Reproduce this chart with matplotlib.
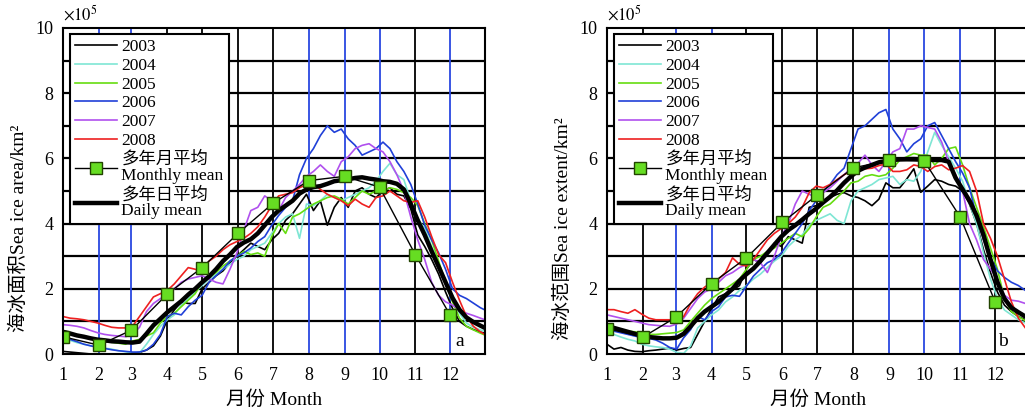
"""Sea ice area (a) and extent (b), 2003-2008, daily series with multi-year means."""

import matplotlib

matplotlib.use("Agg")
import matplotlib.pyplot as plt  # noqa: E402
from matplotlib.lines import Line2D  # noqa: E402

plt.rcParams["font.family"] = ["Liberation Serif", "Noto Sans CJK SC"]
plt.rcParams["mathtext.fontset"] = "stix"

YEARS = ["2003", "2004", "2005", "2006", "2007", "2008"]
YEAR_COLORS = ["#000000", "#7fe6d4", "#66dd11", "#2040d8", "#b050ee", "#ee2020"]
MONTH_DAYS = [1, 32, 60, 91, 121, 152, 182, 213, 244, 274, 305, 335]
MONTH_LABELS = [str(m) for m in range(1, 13)]
# sample days (every 6th day of the year, plus 31 Dec)
DAYS = list(range(1, 362, 6)) + [365]

# ---- panel a: sea ice area (x10^5 km2), values per month group ----
area_2003 = [[0.08, 0.06, 0.04, 0.02, 0.0, 0.0], [0.0, 0.0, 0.0, 0.0], [0.02, 0.05, 0.12, 0.25, 0.55],
             [1.05, 1.35, 1.6, 1.55, 1.55], [2.0, 2.2, 2.4, 2.55, 2.8, 3.0], [3.2, 3.4, 3.3, 3.2, 3.5],
             [3.7, 4.1, 4.3, 4.6, 4.9], [4.4, 4.7, 3.95, 4.5, 4.8], [4.5, 5.0, 5.1, 4.9, 4.8],
             [5.0, 5.1, 4.9, 4.85, 4.45], [3.65, 3.3, 2.9, 2.45, 1.9], [1.4, 1.0, 0.85, 0.75, 0.67, 0.64]]
area_2004 = [[0.5, 0.42, 0.35, 0.3, 0.25, 0.22], [0.18, 0.15, 0.1, 0.07], [0.02, 0.03, 0.3, 0.6, 0.85],
             [1.05, 1.2, 1.5, 1.7, 1.9], [2.1, 2.3, 2.45, 2.6, 2.75, 2.9], [3.0, 3.2, 3.3, 3.4, 3.7],
             [4.0, 4.2, 4.3, 3.55, 4.6], [4.55, 4.7, 4.9, 4.8, 4.7], [4.8, 4.9, 5.0, 5.1, 5.3],
             [5.6, 5.85, 5.5, 5.35, 4.7], [4.15, 3.85, 3.3, 2.8, 2.2], [1.75, 1.25, 0.95, 0.82, 0.74, 0.7]]
area_2005 = [[0.72, 0.65, 0.58, 0.52, 0.46, 0.4], [0.38, 0.36, 0.33, 0.3], [0.4, 0.45, 0.55, 0.65, 0.95],
             [1.15, 1.25, 1.45, 1.65, 1.85], [2.2, 2.35, 2.5, 2.7, 2.85, 3.0], [3.15, 3.05, 3.1, 3.0, 3.6],
             [4.0, 3.7, 4.2, 4.3, 4.45], [4.6, 4.7, 4.8, 4.85, 4.75], [4.6, 4.8, 5.0, 4.9, 5.0],
             [5.0, 5.1, 5.05, 4.95, 4.8], [4.55, 4.0, 3.5, 2.85, 2.2], [1.6, 1.1, 0.85, 0.74, 0.64, 0.58]]
area_2006 = [[0.55, 0.45, 0.38, 0.3, 0.25, 0.2], [0.17, 0.13, 0.1, 0.08], [0.06, 0.06, 0.12, 0.3, 0.6],
             [1.15, 1.25, 1.2, 1.45, 1.65], [1.8, 2.2, 2.4, 2.6, 2.85, 3.0], [3.1, 3.25, 3.45, 3.6, 3.95],
             [4.25, 4.5, 4.7, 5.5, 6.0], [6.3, 6.7, 7.0, 6.8, 6.9], [6.6, 6.4, 6.1, 6.2, 6.3],
             [6.5, 6.3, 5.9, 5.6, 5.2], [4.6, 3.95, 3.5, 3.1, 2.6], [2.0, 1.8, 1.7, 1.56, 1.42, 1.35]]
area_2007 = [[0.9, 0.88, 0.85, 0.8, 0.72, 0.65], [0.6, 0.57, 0.55, 0.53], [0.6, 0.82, 1.3, 1.55, 1.7],
             [1.8, 2.0, 2.2, 2.3, 2.35], [2.4, 2.3, 2.2, 2.15, 2.6, 3.1], [3.8, 4.4, 4.5, 4.85, 4.7],
             [4.4, 4.8, 5.0, 5.2, 5.45], [5.6, 5.8, 5.6, 5.45, 5.9], [6.05, 6.3, 6.4, 6.45, 6.3],
             [6.2, 5.9, 5.5, 5.0, 4.2], [3.5, 2.9, 2.2, 1.8, 1.6], [1.5, 1.35, 1.25, 1.18, 1.1, 1.05]]
area_2008 = [[1.15, 1.1, 1.08, 1.05, 1.0, 0.95], [0.88, 0.82, 0.8, 0.8], [0.85, 1.15, 1.45, 1.75, 1.85],
             [1.95, 2.15, 2.4, 2.65, 2.6], [2.5, 2.85, 3.0, 3.2, 3.35, 3.45], [3.55, 3.7, 3.9, 4.2, 4.55],
             [4.85, 4.9, 4.95, 5.1, 5.2], [5.2, 5.05, 4.9, 4.8, 4.7], [4.55, 4.75, 4.6, 4.5, 4.8],
             [4.85, 5.0, 4.85, 4.7, 4.65], [4.7, 4.2, 3.6, 3.05, 2.8], [2.2, 1.65, 1.15, 0.85, 0.68, 0.6]]
area_daily = [[0.68, 0.63, 0.57, 0.53, 0.48, 0.44], [0.42, 0.39, 0.38, 0.36], [0.35, 0.38, 0.62, 0.88, 1.08],
              [1.28, 1.45, 1.62, 1.82, 2.0], [2.2, 2.38, 2.6, 2.85, 3.05, 3.28], [3.42, 3.52, 3.7, 3.95, 4.2],
              [4.4, 4.55, 4.7, 4.92, 5.05], [5.12, 5.15, 5.22, 5.3, 5.33], [5.36, 5.4, 5.42, 5.38, 5.35],
              [5.3, 5.28, 5.22, 5.05, 4.6], [4.1, 3.65, 3.15, 2.68, 2.2], [1.72, 1.36, 1.12, 0.98, 0.87, 0.8]]
area_monthly = [0.53, 0.27, 0.73, 1.84, 2.65, 3.70, 4.62, 5.32, 5.45, 5.12, 3.04, 1.19]

# ---- panel b: sea ice extent (x10^5 km2) ----
ext_2003 = [[0.3, 0.15, 0.2, 0.12, 0.08, 0.07], [0.1, 0.12, 0.15, 0.18], [0.12, 0.17, 0.2, 0.6, 1.0],
            [1.4, 1.75, 1.85, 1.95, 2.1], [2.6, 2.9, 2.8, 3.1, 3.4, 3.3], [3.6, 3.5, 3.4, 4.5, 4.55],
            [4.7, 4.8, 4.9, 4.95, 4.85], [4.8, 4.7, 4.55, 4.75, 5.25], [5.1, 5.1, 5.37, 5.68, 4.96],
            [5.15, 5.35, 5.3, 5.2, 5.15], [5.0, 4.6, 4.0, 3.2, 2.5], [1.9, 1.5, 1.3, 1.15, 1.05, 1.0]]
ext_2004 = [[0.72, 0.6, 0.52, 0.45, 0.4, 0.3], [0.25, 0.22, 0.2, 0.15], [0.05, 0.02, 0.25, 0.8, 1.0],
            [1.2, 1.35, 1.6, 1.75, 1.95], [2.1, 2.3, 2.45, 2.65, 2.85, 3.0], [3.3, 3.5, 3.65, 3.95, 4.1],
            [4.2, 4.3, 4.1, 4.0, 4.7], [5.0, 5.1, 5.2, 5.35, 5.4], [5.45, 5.2, 5.35, 5.3, 5.6],
            [6.2, 6.8, 6.4, 6.05, 5.7], [5.3, 4.6, 4.0, 3.1, 2.3], [1.7, 1.35, 1.2, 1.05, 0.95, 0.9]]
ext_2005 = [[0.85, 0.8, 0.75, 0.7, 0.68, 0.64], [0.6, 0.6, 0.62, 0.64], [0.66, 0.74, 1.0, 1.25, 1.5],
            [1.7, 1.85, 2.0, 2.15, 2.3], [2.6, 2.9, 3.0, 3.15, 3.25, 3.4], [3.55, 3.7, 3.6, 3.85, 4.2],
            [4.5, 4.6, 4.8, 5.0, 5.25], [5.3, 5.45, 5.5, 5.45, 5.5], [5.7, 5.95, 6.05, 6.15, 6.1],
            [6.1, 5.8, 6.0, 6.3, 6.35], [5.8, 5.1, 4.5, 3.9, 3.25], [2.6, 1.7, 1.3, 1.15, 1.02, 0.95]]
ext_2006 = [[0.75, 0.7, 0.65, 0.6, 0.55, 0.5], [0.48, 0.43, 0.33, 0.2], [0.15, 0.5, 0.75, 1.15, 1.05],
            [1.3, 1.45, 1.75, 1.8, 1.77], [2.08, 2.39, 2.6, 2.8, 2.9, 3.1], [3.4, 3.7, 4.0, 4.4, 4.7],
            [5.0, 5.2, 5.5, 5.7, 6.3], [6.9, 7.0, 7.2, 7.4, 7.5], [6.9, 6.6, 6.2, 6.45, 6.6],
            [7.0, 7.1, 6.7, 6.3, 5.9], [5.55, 5.1, 4.2, 3.5, 2.95], [2.55, 2.35, 2.2, 2.1, 1.95, 1.85]]
ext_2007 = [[1.2, 1.15, 1.1, 1.05, 1.0, 0.95], [0.9, 0.88, 0.86, 0.85], [0.92, 1.1, 1.4, 1.7, 1.9],
            [2.0, 2.2, 2.4, 2.5, 2.65], [2.75, 2.9, 2.8, 2.5, 3.0, 3.6], [4.0, 4.6, 5.0, 4.9, 4.8],
            [4.95, 5.1, 5.3, 5.5, 5.7], [5.85, 6.1, 5.8, 5.6, 5.9], [6.2, 6.3, 6.9, 6.9, 7.0],
            [6.95, 6.9, 6.5, 5.9, 5.5], [5.0, 4.0, 3.5, 2.9, 2.6], [2.3, 1.8, 1.65, 1.62, 1.55, 1.5]]
ext_2008 = [[1.36, 1.36, 1.3, 1.25, 1.36, 1.22], [1.1, 1.05, 1.05, 1.05], [1.05, 1.15, 1.55, 1.85, 2.05],
            [2.2, 2.3, 2.5, 2.95, 2.75], [2.7, 2.9, 3.2, 3.5, 3.7, 3.85], [4.0, 4.2, 4.5, 4.95, 5.15],
            [5.1, 5.2, 5.35, 5.5, 5.6], [5.68, 5.68, 5.7, 5.78, 5.83], [5.6, 5.6, 5.65, 5.8, 5.75],
            [5.6, 5.75, 5.8, 5.65, 5.7], [5.78, 5.6, 5.0, 4.0, 3.55], [3.0, 2.3, 1.6, 1.1, 0.8, 0.68]]
ext_daily = [[0.86, 0.8, 0.74, 0.68, 0.62, 0.56], [0.52, 0.5, 0.48, 0.48], [0.5, 0.62, 0.85, 1.1, 1.3],
             [1.45, 1.6, 1.8, 2.0, 2.25], [2.45, 2.62, 2.85, 3.1, 3.35, 3.6], [3.8, 3.95, 4.12, 4.3, 4.46],
             [4.65, 4.82, 5.02, 5.25, 5.45], [5.62, 5.72, 5.8, 5.88, 5.92], [5.95, 5.97, 5.98, 5.98, 5.97],
             [5.96, 5.95, 5.95, 5.9, 5.4], [5.05, 4.7, 4.25, 3.65, 2.9], [2.2, 1.7, 1.42, 1.28, 1.15, 1.08]]
ext_monthly = [0.78, 0.52, 1.12, 2.16, 2.95, 4.04, 4.88, 5.71, 5.94, 5.92, 4.2, 1.6]

BLUE = "#2a48e0"
K = "black"
# colours of the vertical month lines (months 2..12)
VLINES_A = [BLUE, BLUE, K, K, K, K, BLUE, BLUE, BLUE, K, BLUE]
VLINES_B = [K, BLUE, BLUE, K, K, K, K, BLUE, BLUE, BLUE, K]

MARKER = dict(marker="s", ms=8, mfc="#66dd22", mec="#224400", mew=1.0)


def flat(groups):
    return [v for g in groups for v in g]


def draw_panel(ax, years, daily, monthly, vcolors, ylabel, tag, tag_x):
    for level in range(1, 10):
        ax.axhline(level, color="black", lw=1.6, zorder=1)
    for d, c in zip(MONTH_DAYS[1:], vcolors):
        ax.axvline(d, color=c, lw=1.3, zorder=1)

    handles = []
    for color, vals in zip(YEAR_COLORS, years):
        ax.plot(DAYS, flat(vals), color=color, lw=1.2, zorder=2)
        handles.append(Line2D([], [], color=color, lw=1.2))
    ax.plot(DAYS, flat(daily), color="black", lw=3.2, zorder=3, solid_joinstyle="round")
    ax.plot(MONTH_DAYS, monthly, color="black", lw=1.0, zorder=4, **MARKER)
    handles.append(Line2D([], [], color="black", lw=1.0, **MARKER))
    handles.append(Line2D([], [], color="black", lw=3.2))
    labels = YEARS + ["多年月平均\nMonthly mean", "多年日平均\nDaily mean"]

    leg = ax.legend(handles, labels, loc="upper left", bbox_to_anchor=(0.017, 0.982),
                    borderaxespad=0, fontsize=12.5, fancybox=False, edgecolor="black",
                    framealpha=1, handlelength=2.4, handletextpad=0.25, labelspacing=0.15,
                    borderpad=0.3)
    leg.get_frame().set_linewidth(1.5)
    for t in leg.get_texts():
        t.set_linespacing(1.0)

    ax.set_xlim(1, 365)
    ax.set_ylim(0, 10)
    ax.set_xticks(MONTH_DAYS, MONTH_LABELS)
    ax.set_yticks([0, 2, 4, 6, 8, 10])
    ax.tick_params(axis="x", length=0, labelsize=13, pad=9)
    ax.tick_params(axis="y", length=0, labelsize=13, pad=7)
    for sp in ax.spines.values():
        sp.set_linewidth(1.5)
        sp.set_zorder(5)
    ax.text(0, 1.012, r"$\times10^5$", transform=ax.transAxes, fontsize=12, va="bottom", ha="left")
    ax.set_xlabel("月份 Month", fontsize=14, labelpad=5)
    ax.set_ylabel(ylabel, fontsize=14)
    ax.yaxis.set_label_coords(-0.083, 0.385)
    ax.text(tag_x, 0.012, tag, transform=ax.transAxes, fontsize=14, ha="center", va="bottom")


fig = plt.figure(figsize=(10.25, 4.11), dpi=100)
ax_a = fig.add_axes([63 / 1025, 57 / 411, 422 / 1025, 326 / 411])
ax_b = fig.add_axes([607 / 1025, 57 / 411, 423 / 1025, 326 / 411])

draw_panel(ax_a, [area_2003, area_2004, area_2005, area_2006, area_2007, area_2008],
           area_daily, area_monthly, VLINES_A, "海冰面积Sea ice area/km²", "a", 0.94)
draw_panel(ax_b, [ext_2003, ext_2004, ext_2005, ext_2006, ext_2007, ext_2008],
           ext_daily, ext_monthly, VLINES_B, "海冰范围Sea ice extent/km²", "b", 0.936)

fig.savefig("out.png", dpi=100)
plt.close(fig)
